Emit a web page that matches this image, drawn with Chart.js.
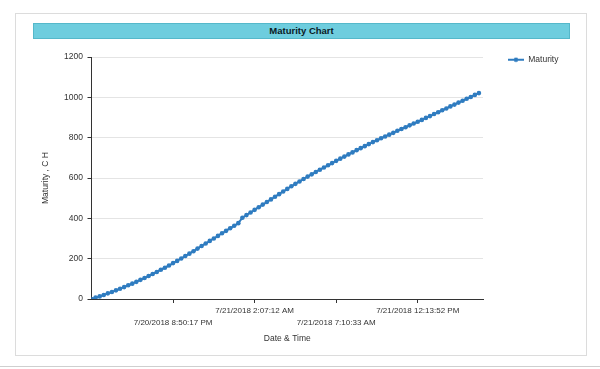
<!DOCTYPE html>
<html>
<head>
<meta charset="utf-8">
<script src="https://cdn.jsdelivr.net/npm/chart.js@4.4.1/dist/chart.umd.min.js"></script>
<style>
  html, body { margin: 0; padding: 0; background: #fff; }
  #wrap { position: relative; width: 600px; height: 369px; overflow: hidden; }
  #frame { position: absolute; left: 15px; top: 13px; width: 570px; height: 341px; border: 1px solid #dcdcdc; }
  #bottomLine { position: absolute; left: 0; top: 366px; width: 600px; height: 1px; background: #cfcfcf; }
  #titleBar {
    position: absolute; left: 33px; top: 23px; width: 535px; height: 14px;
    background: #6ecdde; border: 1px solid #55b8ca;
    font: bold 9.5px "Liberation Sans", Arial, sans-serif; color: #0b1b26;
    text-align: center; line-height: 14px;
  }
  canvas { position: absolute; left: 0; top: 0; }
</style>
</head>
<body>
<div id="wrap">
  <div id="frame"></div>
  <div id="bottomLine"></div>
  <div id="titleBar">Maturity Chart</div>
  <canvas id="chart" width="600" height="369"></canvas>
</div>
<script>
// values, one per sample
const maturity = [
  0, 7, 13, 20, 28, 35, 43, 51, 59, 68,
  76, 85, 95, 104, 114, 124, 134, 145, 155, 166,
  178, 189, 201, 213, 225, 237, 250, 263, 275, 288,
  300, 313, 326, 338, 351, 363, 376, 403, 416, 429,
  442, 455, 468, 481, 494, 507, 520, 533, 546, 559,
  571, 583, 595, 607, 618, 630, 641, 652, 663, 674,
  685, 696, 706, 717, 727, 738, 748, 758, 768, 778,
  787, 797, 806, 815, 824, 834, 843, 852, 861, 870,
  879, 888, 898, 907, 917, 926, 936, 945, 955, 964,
  974, 983, 993, 1002, 1012, 1021
];
// sample positions that carry a date label
const xTickIndex = [20, 40, 60, 80];
const xTickLabels = [
  '7/20/2018 8:50:17 PM',
  '7/21/2018 2:07:12 AM',
  '7/21/2018 7:10:33 AM',
  '7/21/2018 12:13:52 PM'
];
const yTicks = [0, 200, 400, 600, 800, 1000, 1200];

const lineColor = '#2f7cc0';
const font = '"Liberation Sans", Arial, sans-serif';

// legend symbol: short line with a dot
const mark = document.createElement('canvas');
mark.width = 16; mark.height = 6;
const mctx = mark.getContext('2d');
mctx.strokeStyle = lineColor; mctx.lineWidth = 2;
mctx.beginPath(); mctx.moveTo(0, 3); mctx.lineTo(16, 3); mctx.stroke();
mctx.fillStyle = lineColor;
mctx.beginPath(); mctx.arc(8, 3, 2.3, 0, Math.PI * 2); mctx.fill();

// fixed legend width, and put the legend where the reference has it
const legendSpot = {
  id: 'legendSpot',
  beforeLayout(chart) {
    const lg = chart.legend;
    if (lg && !lg._fixedFit) {
      const fit = lg.fit;
      lg.fit = function () { fit.call(this); this.width = 60; };
      lg._fixedFit = true;
    }
  },
  afterLayout(chart) {
    const lg = chart.legend;
    lg.left = 498; lg.right = 600; lg.width = 102;
    lg.top = 45.5; lg.bottom = 369; lg.height = 323.5;
  }
};

new Chart(document.getElementById('chart'), {
  type: 'line',
  data: {
    datasets: [{
      label: 'Maturity',
      data: maturity.map((v, i) => ({ x: i, y: v })),
      borderColor: lineColor,
      backgroundColor: lineColor,
      borderWidth: 2,
      pointRadius: 2.3,
      pointBorderWidth: 0,
      pointBackgroundColor: lineColor,
      tension: 0
    }]
  },
  options: {
    responsive: false,
    animation: false,
    layout: { padding: { left: 40, top: 57, right: 57, bottom: 21.2 } },
    plugins: {
      legend: {
        position: 'right',
        align: 'start',
        labels: {
          usePointStyle: true,
          pointStyle: mark,
          pointStyleWidth: 16,
          color: '#333',
          font: { family: font, size: 8.5 }
        }
      },
      tooltip: { enabled: false }
    },
    scales: {
      x: {
        type: 'linear',
        min: 0,
        max: 96,
        afterBuildTicks: (axis) => {
          axis.ticks = xTickIndex.map(v => ({ value: v }));
        },
        ticks: {
          autoSkip: false,
          maxRotation: 0,
          padding: 2,
          color: '#333',
          font: { family: font, size: 8, lineHeight: 1.45 },
          callback: (value) => {
            const k = xTickIndex.indexOf(value);
            if (k < 0) return '';
            return k % 2 === 0 ? ['', xTickLabels[k]] : [xTickLabels[k]];
          }
        },
        grid: { drawOnChartArea: false, drawTicks: true, tickLength: 4, tickColor: '#333' },
        border: { color: '#333', width: 1 },
        title: {
          display: true,
          text: 'Date & Time',
          color: '#333',
          font: { family: font, size: 8.5, lineHeight: 1.2 },
          padding: { top: 3.4, bottom: 4 }
        }
      },
      y: {
        min: 0,
        max: 1200,
        afterBuildTicks: (axis) => {
          axis.ticks = yTicks.map(v => ({ value: v }));
        },
        ticks: {
          padding: 4.5,
          color: '#333',
          font: { family: font, size: 8.5 },
          callback: (value) => String(value)
        },
        grid: { color: '#e4e4e4', tickColor: '#333', tickLength: 4 },
        border: { color: '#333', width: 1 },
        title: {
          display: true,
          text: 'Maturity , C H',
          color: '#333',
          font: { family: font, size: 8.5, lineHeight: 1.2 },
          padding: { top: 1, bottom: 8.4 }
        }
      }
    }
  },
  plugins: [legendSpot]
});
</script>
</body>
</html>
